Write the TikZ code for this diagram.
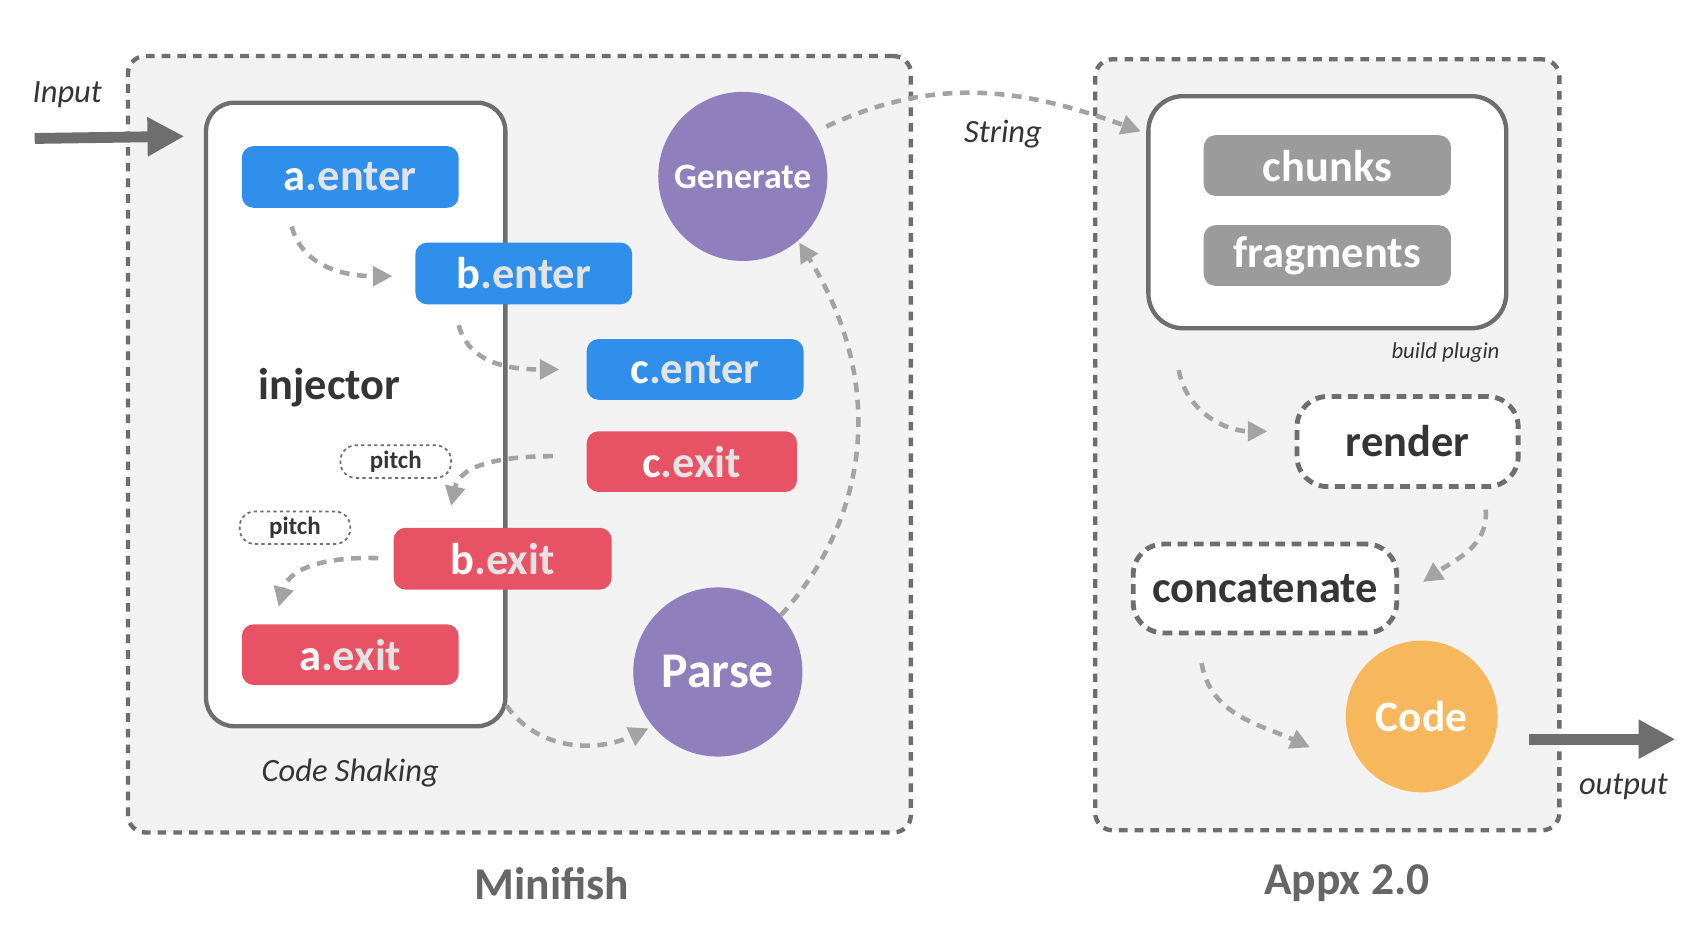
\documentclass[tikz,border=0pt]{standalone}
\usepackage{fontspec}
\setmainfont{Carlito}
\usetikzlibrary{arrows.meta,calc,shapes.geometric}
\definecolor{bluebox}{HTML}{2F8FEB}
\definecolor{redbox}{HTML}{E85265}
\definecolor{purp}{HTML}{8F7FBD}
\definecolor{orng}{HTML}{F7B85D}
\definecolor{chunkgray}{HTML}{9B9B9B}
\definecolor{panel}{HTML}{F2F2F2}
\definecolor{edge}{HTML}{6E6E6E}
\definecolor{conn}{HTML}{A3A3A3}
\definecolor{ink}{HTML}{353535}
\definecolor{dimwhite}{HTML}{E3E3E3}
\definecolor{labgray}{HTML}{666666}
\newcommand\biglab{\fontsize{41}{41}\selectfont\bfseries}
\newcommand\itlab{\fontsize{30}{30}\selectfont\itshape}
\begin{document}
\begin{tikzpicture}[x=1pt,y=1pt,
  panelbox/.style={rectangle,fill=panel,draw=edge,line width=4pt,dash pattern=on 8pt off 6.5pt,rounded corners=16pt,inner sep=0pt},
  holder/.style={rectangle,draw=edge,fill=white,line width=4pt,rounded corners=28pt,inner sep=0pt},
  hook/.style={rectangle,rounded corners=11pt,minimum width=200pt,minimum height=57pt,inner sep=0pt,text=white,font=\biglab},
  bluehook/.style={hook,fill=bluebox},
  redhook/.style={hook,fill=redbox},
  grayhook/.style={hook,fill=chunkgray,minimum width=228pt,minimum height=56pt},
  stage/.style={rectangle,draw=edge,fill=white,line width=4.5pt,dash pattern=on 9pt off 6pt,rounded corners=28pt,inner sep=0pt,text=ink,font=\biglab},
  pitchtag/.style={rectangle,draw=edge,fill=white,line width=1.6pt,dash pattern=on 3pt off 3pt,rounded corners=14pt,minimum width=102pt,minimum height=30pt,inner sep=0pt,text=ink,font=\fontsize{23}{23}\selectfont\bfseries},
  blob/.style={circle,inner sep=0pt,text=white},
  flow/.style={draw=conn,line width=4.2pt,dash pattern=on 9pt off 7pt,-{Triangle[length=18pt,width=18pt]}},
  bigarrow/.style={draw=edge,line width=10pt,-{Triangle[length=34pt,width=34pt]}},
  itext/.style={text=ink,font=\itlab,inner sep=0pt},
  title/.style={text=labgray,font=\fontsize{42}{42}\selectfont\bfseries,inner sep=0pt}
]
\useasboundingbox (0,0) rectangle (1564,868.7);
\fill[white] (0,0) rectangle (1564,868.7);

% panels
\node[panelbox,minimum width=722pt,minimum height=716pt] (minifish) at (479,459) {};
\node[panelbox,minimum width=428pt,minimum height=711pt] (appx) at (1224,458.5) {};

% Minifish content
\node[holder,rounded corners=26pt,minimum width=276pt,minimum height=575pt] (csbox) at (328,486.5) {};
\node[bluehook] (aenter) at (323,705.5) {a\textcolor{dimwhite}{.enter}};
\node[bluehook] (benter) at (483,616.5) {b\textcolor{dimwhite}{.enter}};
\node[bluehook,minimum height=56pt] (center) at (641,528) {c\textcolor{dimwhite}{.enter}};
\node[redhook,minimum width=194pt,minimum height=56pt] (cexit) at (638,443) {c\textcolor{dimwhite}{.exit}};
\node[redhook,minimum width=201pt] (bexit) at (463.5,353.5) {b\textcolor{dimwhite}{.exit}};
\node[redhook,minimum height=56pt] (aexit) at (323,265) {a\textcolor{dimwhite}{.exit}};
\node[text=ink,font=\biglab,inner sep=0pt] (inj) at (304,511) {injector};
\node[pitchtag] (pitcha) at (365,443) {pitch};
\node[pitchtag] (pitchb) at (272,382) {pitch};
\node[blob,fill=purp,minimum size=156pt,font=\fontsize{33}{33}\selectfont\bfseries] (generate) at (685,706) {Generate};
\node[blob,fill=purp,minimum size=156pt,font=\fontsize{46}{46}\selectfont\bfseries] (parse) at (662,249) {Parse};
\node[itext] (lcs) at (323,156) {Code Shaking};
\node[title] (tmini) at (509,54) {Minifish};

% Appx content
\node[holder,rounded corners=32pt,minimum width=330pt,minimum height=214pt] (build) at (1224,673) {};
\node[grayhook] (chunks) at (1224,716) {chunks};
\node[grayhook] (frags) at (1224,633) {fragments};
\node[itext,font=\fontsize{21}{21}\selectfont\itshape] (lbp) at (1333,544) {build plugin};
\node[stage,minimum width=204pt,minimum height=83pt] (render) at (1298,461.5) {render};
\node[stage,minimum width=243pt,minimum height=82pt] (concat) at (1166.5,326) {concatenate};
\node[blob,fill=orng,minimum size=140pt,font=\fontsize{40}{40}\selectfont\bfseries] (code) at (1311,208) {Code};
\node[title] (tappx) at (1242,54) {Appx 2.0};

% outside labels
\node[itext] (linput) at (62,781) {Input};
\node[itext] (lstring) at (925,745) {String};
\node[itext] (loutput) at (1497,143) {output};

% big arrows
\coordinate (inpstart) at (32,741);
\coordinate (outend) at (1545,187);
\draw[bigarrow] (inpstart) -- ($(csbox.north west)+(-18,-33)$);
\draw[bigarrow] ($(code)+(99,-21)$) -- (outend);

% flows
\draw[flow] ($(aenter.south)+(-54,-17)$) to[out=-75,in=180] ($(benter.west)+(-21,-2.5)$);
\draw[flow] ($(benter.south)+(-60,-19)$) to[out=-75,in=180] ($(center.west)+(-25,0)$);
\draw[flow] ($(cexit.west)+(-31,5)$) to[out=180,in=78] ($(bexit.north)+(-47.5,20)$);
\draw[flow] ($(bexit.west)+(-14,0.5)$) to[out=178,in=75] ($(aexit.north)+(-66,16)$);
\draw[flow] ($(csbox.south east)+(-1,21)$) to[out=-55,in=205] ($(parse)+(-64,-52)$);
\draw[flow] (parse.42) .. controls +(85,94) and +(78,-125) .. ($(generate)+(52,-61)$);
\draw[flow] ($(generate)+(77,46)$) to[out=25,in=160] ($(build.west)+(-5,74.5)$);
\draw[flow] ($(build.south west)+(30,-36.5)$) to[out=-80,in=180] ($(render.west)+(-25,9.5)$);
\draw[flow] ($(render.south)+(72,-19)$) to[out=-85,in=35] ($(concat.east)+(22,6)$);
\draw[flow] ($(concat.south)+(-58.5,-25.5)$) to[out=-80,in=155] ($(code)+(-103,-28.5)$);
\end{tikzpicture}
\end{document}
